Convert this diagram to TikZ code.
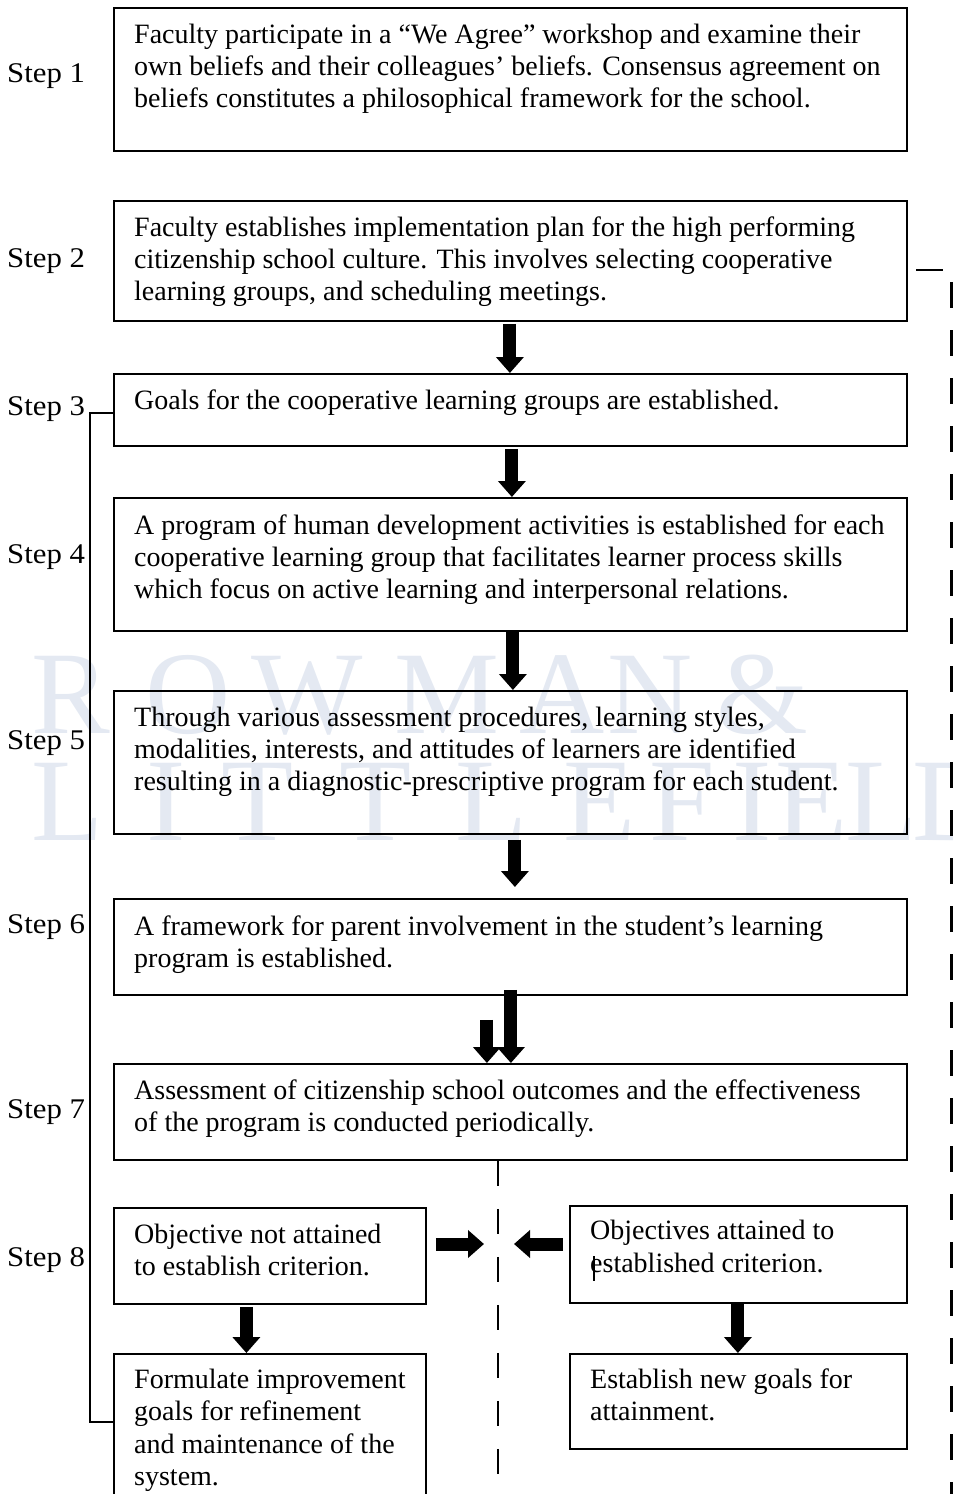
\documentclass[tikz,border=0pt]{standalone}
\usepackage{fontspec}
\setmainfont{Liberation Serif}
\newfontfamily\stepfont[FakeStretch=1.08]{Liberation Serif}
\usetikzlibrary{arrows.meta}
\definecolor{wm}{RGB}{228,233,242}
\begin{document}
\begin{tikzpicture}[x=1pt,y=-1pt,
  box/.style={draw, line width=1.8pt, inner sep=0pt, anchor=north west},
  txt/.style={anchor=base west, inner sep=0pt, font=\fontsize{28}{32}\selectfont},
  steplbl/.style={anchor=base west, inner sep=0pt, font=\stepfont\fontsize{28.5}{32}\selectfont},
  wmk/.style={anchor=base, inner sep=0pt, text=wm, font=\fontsize{118}{120}\selectfont},
  barrow/.style={line width=13pt, -{Triangle[width=27pt,length=16pt]}},
  thin/.style={line width=1.8pt}]
\useasboundingbox (0,0) rectangle (953,1494);
\clip (0,0) rectangle (953,1494);
% watermark
\foreach \l/\x [count=\i] in {R/71,O/188,W/307,M/447,A/562,N/650,\&/762}
  \node[wmk] (wa\i) at (\x,733) {\l};
\foreach \l/\x [count=\i] in {L/68,I/166,T/258,T/376,L/492,E/600,F/682,I/752,E/812,L/882,D/955}
  \node[wmk] (wb\i) at (\x,840) {\l};
% boxes
\node[box, minimum width=793pt, minimum height=143pt] (b1) at (113,7) {};
\node[box, minimum width=793pt, minimum height=120pt] (b2) at (113,200) {};
\node[box, minimum width=793pt, minimum height=72pt] (b3) at (113,373) {};
\node[box, minimum width=793pt, minimum height=133pt] (b4) at (113,497) {};
\node[box, minimum width=793pt, minimum height=143pt] (b5) at (113,690) {};
\node[box, minimum width=793pt, minimum height=96pt] (b6) at (113,898) {};
\node[box, minimum width=793pt, minimum height=96pt] (b7) at (113,1063) {};
\node[box, minimum width=312pt, minimum height=96pt] (b8l) at (113,1207) {};
\node[box, minimum width=337pt, minimum height=97pt] (b8r) at (569,1205) {};
\node[box, minimum width=312pt, minimum height=170pt] (b9l) at (113,1353) {};
\node[box, minimum width=337pt, minimum height=95pt] (b9r) at (569,1353) {};
% step labels
\node[steplbl] (s1) at (7,82) {Step 1};
\node[steplbl] (s2) at (7,267) {Step 2};
\node[steplbl] (s3) at (7,415) {Step 3};
\node[steplbl] (s4) at (7,563) {Step 4};
\node[steplbl] (s5) at (7,749) {Step 5};
\node[steplbl] (s6) at (7,933) {Step 6};
\node[steplbl] (s7) at (7,1118) {Step 7};
\node[steplbl] (s8) at (7,1266) {Step 8};
% box texts
\node[txt] (t1a) at (134,43) {Faculty participate in a “We Agree” workshop and examine their};
\node[txt] (t1b) at (134,75) {own beliefs and their colleagues’ beliefs. Consensus agreement on};
\node[txt] (t1c) at (134,107) {beliefs constitutes a philosophical framework for the school.};
\node[txt] (t2a) at (134,236) {Faculty establishes implementation plan for the high performing};
\node[txt] (t2b) at (134,268) {citizenship school culture. This involves selecting cooperative};
\node[txt] (t2c) at (134,300) {learning groups, and scheduling meetings.};
\node[txt] (t3a) at (134,409) {Goals for the cooperative learning groups are established.};
\node[txt] (t4a) at (134,534) {A program of human development activities is established for each};
\node[txt] (t4b) at (134,566) {cooperative learning group that facilitates learner process skills};
\node[txt] (t4c) at (134,598) {which focus on active learning and interpersonal relations.};
\node[txt] (t5a) at (134,726) {Through various assessment procedures, learning styles,};
\node[txt] (t5b) at (134,758) {modalities, interests, and attitudes of learners are identified};
\node[txt] (t5c) at (134,790) {resulting in a diagnostic-prescriptive program for each student.};
\node[txt] (t6a) at (134,935) {A framework for parent involvement in the student’s learning};
\node[txt] (t6b) at (134,967) {program is established.};
\node[txt] (t7a) at (134,1099) {Assessment of citizenship school outcomes and the effectiveness};
\node[txt] (t7b) at (134,1131) {of the program is conducted periodically.};
\node[txt] (t8a) at (134,1243) {Objective not attained};
\node[txt] (t8b) at (134,1275) {to establish criterion.};
\node[txt] (t8c) at (590,1239) {Objectives attained to};
\node[txt] (t8d) at (590,1272) {established criterion.};
\node[txt] (t9a) at (134,1388) {Formulate improvement};
\node[txt] (t9b) at (134,1420) {goals for refinement};
\node[txt] (t9c) at (134,1453) {and maintenance of the};
\node[txt] (t9d) at (134,1485) {system.};
\node[txt] (t9e) at (590,1388) {Establish new goals for};
\node[txt] (t9f) at (590,1420) {attainment.};
\draw[line width=1.2pt] (594,1256) -- (594,1281);
% arrows
\draw[barrow] ([xshift=-0.5pt,yshift=-2pt]b2.south) -- ([xshift=-0.5pt]b3.north);
\draw[barrow] ([xshift=1.5pt,yshift=-2pt]b3.south) -- ([xshift=1.5pt]b4.north);
\draw[barrow] ([xshift=2.5pt]b4.south) -- ([xshift=2.5pt]b5.north);
\draw[barrow] ([xshift=4.5pt,yshift=-5pt]b5.south) -- ([xshift=4.5pt,yshift=11pt]b6.north);
\draw[barrow] ([xshift=0.5pt,yshift=6pt]b6.south) -- ([xshift=0.5pt]b7.north);
\draw[barrow] ([xshift=-23.5pt,yshift=-24pt]b6.south) -- ([xshift=-23.5pt]b7.north);
\coordinate (mid8) at (498,1244);
\path (b8l.east |- mid8) coordinate (p8l);
\path (b8r.west |- mid8) coordinate (p8r);
\draw[barrow] ([xshift=9pt]p8l) -- ([xshift=-14pt]mid8);
\draw[barrow] ([xshift=-6pt]p8r) -- ([xshift=16pt]mid8);
\draw[barrow] ([xshift=-23.5pt,yshift=-2pt]b8l.south) -- ([xshift=-23.5pt]b9l.north);
\draw[barrow] ([xshift=-0.5pt]b8r.south) -- ([xshift=-0.5pt]b9r.north);
% middle dashed line
\coordinate (m7) at (b7.south -| mid8);
\draw[thin] (m7) -- ([yshift=-25pt]m7);
\draw[thin, dash pattern=on 25pt off 23pt] ([yshift=-48pt]m7) -- ([yshift=-320pt]m7);
% left bracket
\coordinate (br1) at (90,413);
\coordinate (br2) at (90,1422);
\draw[thin] (b3.west |- br1) -- (br1) -- (br2) -- (b9l.west |- br2);
% right side
\coordinate (r1) at (916,270);
\coordinate (r2) at (943,270);
\draw[thin] (r1) -- (r2);
\coordinate (rd1) at (951,282);
\coordinate (rd2) at (951,1494);
\draw[line width=3pt, dash pattern=on 26pt off 22pt] (rd1) -- (rd2);
\end{tikzpicture}
\end{document}
